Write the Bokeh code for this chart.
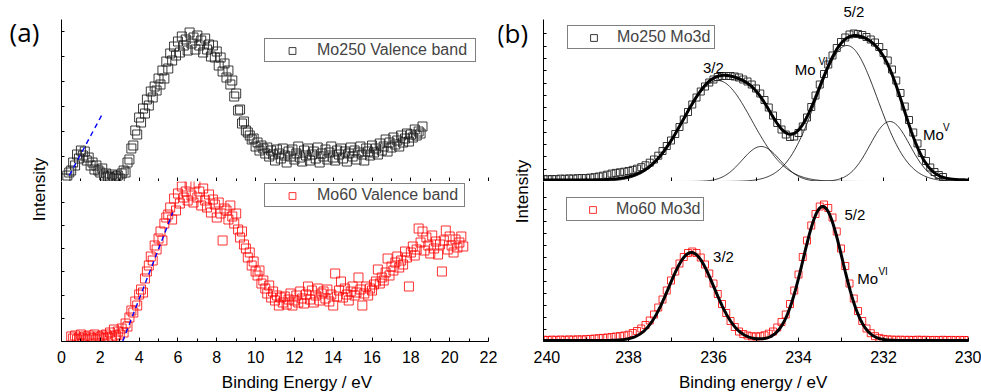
import numpy as np
from math import pi
from bokeh.plotting import figure
from bokeh.layouts import row, column
from bokeh.models import Range1d, FixedTicker, Legend, LegendItem, Label
from bokeh.embed import file_html
from bokeh.resources import INLINE

FONT = "Liberation Sans"

# ---------------- data: (a) valence band ----------------
vb250_e = [0.2, 0.3, 0.4, 0.5, 0.6, 0.7, 0.8, 0.9, 1.0, 1.1, 1.2, 1.3, 1.4, 1.5, 1.6, 1.7, 1.8, 1.9,
           2.0, 2.1, 2.2, 2.3, 2.4, 2.5, 2.6, 2.7, 2.8, 2.9, 3.0, 3.1, 3.2, 3.3, 3.4, 3.5, 3.6, 3.7,
           3.8, 3.9, 4.0, 4.1, 4.2, 4.3, 4.4, 4.5, 4.6, 4.7, 4.8, 4.9, 5.0, 5.1, 5.2, 5.3, 5.4, 5.5,
           5.6, 5.7, 5.8, 5.9, 6.0, 6.1, 6.2, 6.3, 6.4, 6.5, 6.6, 6.7, 6.8, 6.9, 7.0, 7.1, 7.2, 7.3,
           7.4, 7.5, 7.6, 7.7, 7.8, 7.9, 8.0, 8.1, 8.2, 8.3, 8.4, 8.5, 8.6, 8.7, 8.8, 8.9, 9.0, 9.1,
           9.2, 9.3, 9.4, 9.5, 9.6, 9.7, 9.8, 9.9, 10.0, 10.1, 10.2, 10.3, 10.4, 10.5, 10.6, 10.7,
           10.8, 10.9, 11.0, 11.1, 11.2, 11.3, 11.4, 11.5, 11.6, 11.7, 11.8, 11.9, 12.0, 12.1, 12.2,
           12.3, 12.4, 12.5, 12.6, 12.7, 12.8, 12.9, 13.0, 13.1, 13.2, 13.3, 13.4, 13.5, 13.6, 13.7,
           13.8, 13.9, 14.0, 14.1, 14.2, 14.3, 14.4, 14.5, 14.6, 14.7, 14.8, 14.9, 15.0, 15.1, 15.2,
           15.3, 15.4, 15.5, 15.6, 15.7, 15.8, 15.9, 16.0, 16.1, 16.2, 16.3, 16.4, 16.5, 16.6, 16.7,
           16.8, 16.9, 17.0, 17.1, 17.2, 17.3, 17.4, 17.5, 17.6, 17.7, 17.8, 17.9, 18.0, 18.1, 18.2,
           18.3, 18.4, 18.5, 18.6]
vb250_i = [3, 6, 9, 11, 19, 16, 27, 23, 31, 26,
           30, 21, 24, 16, 19, 12, 16, 11, 9, 13,
           6, 8, 5, 4, 7, 3, 5, 6, 3, 8,
           11, 9, 19, 22, 33, 36, 51, 47, 64, 59,
           73, 68, 82, 76, 90, 84, 95, 91, 103, 97,
           111, 103, 120, 113, 128, 121, 135, 126, 140, 129,
           145, 136, 142, 131, 149, 138, 144, 132, 146, 136,
           141, 129, 143, 132, 137, 125, 136, 124, 130, 116,
           124, 110, 118, 104, 111, 97, 101, 85, 88, 71,
           72, 58, 60, 51, 49, 46, 42, 43, 35, 39,
           31, 36, 33, 28, 34, 25, 31, 27, 21, 32,
           28, 23, 33, 26, 19, 30, 25, 32, 22, 28,
           35, 24, 20, 31, 26, 33, 21, 27, 30, 23,
           34, 19, 28, 25, 32, 22, 29, 35, 24, 21,
           31, 27, 33, 23, 30, 20, 28, 34, 25, 31,
           22, 29, 35, 27, 21, 33, 30, 26, 36, 29,
           33, 27, 38, 31, 35, 42, 30, 39, 34, 44,
           37, 41, 35, 46, 39, 43, 48, 40, 47, 44,
           52, 46, 50, 48, 55]

vb60_e = [0.5, 0.6, 0.7, 0.8, 0.9, 1.0, 1.1, 1.2, 1.3, 1.4, 1.5, 1.6, 1.7, 1.8, 1.9, 2.0, 2.1,
          2.2, 2.3, 2.4, 2.5, 2.6, 2.7, 2.8, 2.9, 3.0, 3.1, 3.2, 3.3, 3.4, 3.5, 3.6, 3.7, 3.8,
          3.9, 4.0, 4.1, 4.2, 4.3, 4.4, 4.5, 4.6, 4.7, 4.8, 4.9, 5.0, 5.1, 5.2, 5.3, 5.4, 5.5,
          5.6, 5.7, 5.8, 5.9, 6.0, 6.1, 6.2, 6.3, 6.4, 6.5, 6.6, 6.7, 6.8, 6.9, 7.0, 7.1, 7.2,
          7.3, 7.4, 7.5, 7.6, 7.7, 7.8, 7.9, 8.0, 8.1, 8.2, 8.3, 8.4, 8.5, 8.6, 8.7, 8.8, 8.9,
          9.0, 9.1, 9.2, 9.3, 9.4, 9.5, 9.6, 9.7, 9.8, 9.9, 10.0, 10.1, 10.2, 10.3, 10.4, 10.5,
          10.6, 10.7, 10.8, 10.9, 11.0, 11.1, 11.2, 11.3, 11.4, 11.5, 11.6, 11.7, 11.8, 11.9,
          12.0, 12.1, 12.2, 12.3, 12.4, 12.5, 12.6, 12.7, 12.8, 12.9, 13.0, 13.1, 13.2, 13.3,
          13.4, 13.5, 13.6, 13.7, 13.8, 13.9, 14.0, 14.1, 14.2, 14.3, 14.4, 14.5, 14.6, 14.7,
          14.8, 14.9, 15.0, 15.1, 15.2, 15.3, 15.4, 15.5, 15.6, 15.7, 15.8, 15.9, 16.0, 16.1,
          16.2, 16.3, 16.4, 16.5, 16.6, 16.7, 16.8, 16.9, 17.0, 17.1, 17.2, 17.3, 17.4, 17.5,
          17.6, 17.7, 17.8, 17.9, 18.0, 18.1, 18.2, 18.3, 18.4, 18.5, 18.6, 18.7, 18.8, 18.9,
          19.0, 19.1, 19.2, 19.3, 19.4, 19.5, 19.6, 19.7, 19.8, 19.9, 20.0, 20.1, 20.2, 20.3,
          20.4, 20.5, 20.6, 20.7]
vb60_i = [5, 3, 6, 2, 4, 7, 3, 5, 2, 6,
          4, 3, 7, 2, 5, 4, 6, 3, 7, 4,
          9, 5, 12, 6, 10, 7, 13, 9, 18, 15,
          24, 31, 29, 40, 36, 47, 52, 49, 63, 70,
          76, 85, 81, 96, 92, 103, 110, 101, 118, 124,
          127, 134, 122, 143, 131, 148, 138, 155, 144, 150,
          141, 157, 146, 139, 158, 144, 150, 136, 153, 141,
          134, 147, 129, 142, 137, 124, 139, 128, 101, 133,
          131, 122, 136, 125, 118, 128, 112, 104, 110, 97,
          93, 84, 89, 76, 80, 70, 66, 71, 58, 61,
          53, 48, 56, 44, 50, 41, 46, 36, 44, 39,
          45, 37, 42, 48, 36, 41, 46, 39, 50, 43,
          38, 47, 55, 42, 51, 39, 46, 53, 41, 48,
          50, 43, 52, 40, 47, 36, 68, 45, 51, 60,
          44, 53, 47, 41, 50, 55, 46, 49, 64, 52,
          36, 48, 55, 46, 53, 51, 57, 60, 72, 58,
          64, 61, 69, 83, 66, 75, 71, 79, 85, 74,
          81, 77, 90, 84, 55, 89, 95, 86, 92, 113,
          99, 110, 91, 104, 96, 88, 106, 93, 100, 87,
          97, 70, 101, 111, 92, 105, 96, 89, 102, 94,
          99, 105, 95]

# blue dashed onset extrapolations (two end points each)
edge250_e = [0.4, 2.12]
edge250_i = [6, 68]
edge60_e = [3.15, 5.73]
edge60_i = [0, 129]

# ---------------- data: (b) Mo 3d ----------------
d3_e = [240.0, 239.9, 239.8, 239.7, 239.6, 239.5, 239.4, 239.3, 239.2, 239.1, 239.0, 238.9, 238.8,
        238.7, 238.6, 238.5, 238.4, 238.3, 238.2, 238.1, 238.0, 237.9, 237.8, 237.7, 237.6, 237.5,
        237.4, 237.3, 237.2, 237.1, 237.0, 236.9, 236.8, 236.7, 236.6, 236.5, 236.4, 236.3, 236.2,
        236.1, 236.0, 235.9, 235.8, 235.7, 235.6, 235.5, 235.4, 235.3, 235.2, 235.1, 235.0, 234.9,
        234.8, 234.7, 234.6, 234.5, 234.4, 234.3, 234.2, 234.1, 234.0, 233.9, 233.8, 233.7, 233.6,
        233.5, 233.4, 233.3, 233.2, 233.1, 233.0, 232.9, 232.8, 232.7, 232.6, 232.5, 232.4, 232.3,
        232.2, 232.1, 232.0, 231.9, 231.8, 231.7, 231.6, 231.5, 231.4, 231.3, 231.2, 231.1, 231.0,
        230.9, 230.8, 230.7, 230.6, 230.5, 230.4, 230.3, 230.2, 230.1, 230.0]
d3_250_i = [2.6, 2.2, 2.5, 2.3, 2.9, 2.7, 3.1, 2.9, 3.3, 3.5, 3.4, 3.9, 4.3,
            5.0, 5.8, 6.8, 7.9, 8.6, 9.2, 9.8, 10.5, 11.6, 12.8, 14.3, 16.2, 18.8,
            22.0, 25.8, 30.5, 35.5, 41, 47.5, 54.5, 62, 69.5, 77, 84, 90, 95,
            99, 102, 104.5, 105.5, 105.5, 105.5, 105, 104, 102, 100, 97, 93, 88,
            81.5, 74, 66, 58.5, 52, 47, 44.5, 45, 48.5, 55, 64, 74.5, 86,
            97, 107.5, 117, 126, 133.5, 139.5, 144, 147, 148, 147.5, 146.5, 144.5, 142,
            139, 134.5, 128.5, 121, 112, 101, 88.5, 75, 61.5, 49, 38, 28.5, 20.5,
            14, 9.5, 6.5, 4.5]
d3_60_i = [1.8, 1.5, 1.9, 1.6, 2.0, 1.7, 2.1, 1.8, 2.2, 2.0, 2.4, 2.6, 2.9,
           3.3, 3.6, 4.0, 4.5, 5.0, 5.4, 6.0, 6.8, 8.5, 10.5, 13.0, 16.5, 21,
           27, 34, 42, 51, 61, 70, 78, 84.5, 88.5, 90, 88.5, 84, 77,
           68, 58, 47.5, 37.5, 28.5, 20.5, 14.5, 10.0, 7.5, 6.0, 5.2, 5.0, 5.3,
           6.2, 7.8, 10, 14, 19.5, 27, 37.5, 51, 67, 84.5, 101, 116, 127.5,
           135, 137, 133.5, 124, 110, 93, 75.5, 58, 43, 30.5, 20.5, 13, 8.3,
           5.3, 3.6, 2.6, 2.1, 1.9, 1.7, 1.8, 1.6, 1.7, 1.5, 1.8, 1.6, 1.7,
           1.5, 1.6, 1.4, 1.7, 1.5, 1.6, 1.4, 1.6, 1.5, 1.5]

# Gaussian fit components (centre eV, height, sigma eV)
fit250_center = [235.9, 234.88, 232.86, 231.85]
fit250_height = [101, 35, 136, 60]
fit250_sigma = [0.80, 0.45, 0.72, 0.47]
fit250_bg = 1.5
fit60_center = [236.52, 233.43]
fit60_height = [88, 134]
fit60_sigma = [0.53, 0.46]
fit60_bg = 1.0

# ticks
a_xticks = [0, 2, 4, 6, 8, 10, 12, 14, 16, 18, 20, 22]
a_xminor = [1, 3, 5, 7, 9, 11, 13, 15, 17, 19, 21]
b_xticks = [240, 238, 236, 234, 232, 230]
b_xminor = [239, 237, 235, 233, 231]
a_top_yticks = [25, 50, 75, 100, 125, 150]
a_bot_yticks = [23.2, 46.4, 69.6, 92.8, 116, 139.2]
b_top_yticks = [12.3, 24.6, 36.9, 49.2, 61.5, 73.8, 86.1, 98.4, 110.7, 123, 135.3, 147.6]
b_bot_yticks = [12, 24, 36, 48, 60, 72, 84, 96, 108, 120, 132, 144]


def base_fig(w, h, xr, yr, mbl, mbr, mbt, mbb, axes=True):
    kw = {}
    if not axes:
        kw = dict(x_axis_location=None, y_axis_location=None)
    p = figure(width=w, height=h, x_range=Range1d(*xr), y_range=Range1d(*yr),
               output_backend="svg", toolbar_location=None,
               min_border_left=mbl, min_border_right=mbr,
               min_border_top=mbt, min_border_bottom=mbb, **kw)
    p.outline_line_color = None
    p.xgrid.visible = False
    p.ygrid.visible = False
    p.background_fill_color = "white"
    p.border_fill_color = "white"
    return p


def style_axis(ax, ticks, minor, tin, min_in, labels):
    ax.ticker = FixedTicker(ticks=ticks, minor_ticks=minor)
    ax.axis_line_color = "black"
    ax.axis_line_width = 1
    ax.major_tick_line_color = "black"
    ax.minor_tick_line_color = "black"
    ax.major_tick_in = tin
    ax.major_tick_out = 0
    ax.minor_tick_in = min_in
    ax.minor_tick_out = 0
    if labels:
        ax.major_label_text_font = FONT
        ax.major_label_text_font_size = "16px"
        ax.major_label_text_color = "black"
        ax.major_label_standoff = 9
    else:
        ax.major_label_text_font_size = "0px"
        ax.major_label_text_color = None
        ax.major_label_standoff = 0


def add_legend(p, label, r, loc, label_width, glyph_width):
    lg = Legend(items=[LegendItem(label=label, renderers=[r])], location=loc,
                orientation="vertical", padding=2, margin=0, spacing=0,
                glyph_width=glyph_width, glyph_height=17, label_height=17,
                label_width=label_width, label_standoff=0,
                label_text_font=FONT, label_text_font_size="16px",
                border_line_color="black", border_line_width=1,
                background_fill_color="white", background_fill_alpha=1)
    p.add_layout(lg, "center")


def lab(p, x, y, text, size="15px", align="left", baseline="alphabetic", angle=0.0, font=FONT):
    p.add_layout(Label(x=x, y=y, text=text, text_font=font, text_font_size=size,
                       text_align=align, text_baseline=baseline, angle=angle,
                       text_color="black"))


# ---------------- panel (a) ----------------
fa_top = base_fig(447, 181, (0, 22), (0, 162), 10, 10, 19, 0)
style_axis(fa_top.xaxis[0], a_xticks, a_xminor, 4, 3, False)
style_axis(fa_top.yaxis[0], a_top_yticks, [], 3, 0, False)
r_vb250 = fa_top.scatter(vb250_e, vb250_i, marker="square", size=9, fill_color=None,
                         line_color="#1a1a1a", line_alpha=0.85, line_width=1)
fa_top.line(edge250_e, edge250_i, line_color="#0000ff", line_dash="5 4", line_width=1.4)
add_legend(fa_top, "Mo250 Valence band", r_vb250, (203, 119), 156, 50)

fa_bot = base_fig(447, 192, (0, 22), (0, 160), 10, 10, 0, 32)
style_axis(fa_bot.xaxis[0], a_xticks, a_xminor, 4, 3, True)
style_axis(fa_bot.yaxis[0], a_bot_yticks, [], 3, 0, False)
r_vb60 = fa_bot.scatter(vb60_e, vb60_i, marker="square", size=9, fill_color=None,
                        line_color="#ff0000", line_alpha=0.8, line_width=1)
fa_bot.line(edge60_e, edge60_i, line_color="#0000ff", line_dash="5 4", line_width=1.4)
add_legend(fa_bot, "Mo60 Valence band", r_vb60, (203, 134), 145, 50)

xa = base_fig(447, 19, (0, 447), (0, 19), 0, 0, 0, 0, axes=False)
lab(xa, 246.5, 10, "Binding Energy / eV", size="17px", align="center", baseline="middle")

# ---------------- panel (b) ----------------
xfit = np.linspace(230, 240, 501)

fb_top = base_fig(448, 181, (240, 230), (0, 162), 10, 13, 19, 0)
style_axis(fb_top.xaxis[0], b_xticks, b_xminor, 4, 4, False)
style_axis(fb_top.yaxis[0], b_top_yticks, [], 3, 0, False)
env250 = np.full_like(xfit, fit250_bg)
for c, h, s in zip(fit250_center, fit250_height, fit250_sigma):
    comp = h * np.exp(-(xfit - c) ** 2 / (2 * s * s))
    env250 = env250 + comp
    fb_top.line(xfit, comp, line_color="black", line_width=0.8)
r_d250 = fb_top.scatter(d3_e[:len(d3_250_i)], d3_250_i, marker="square", size=7, fill_color=None,
                        line_color="#222222", line_alpha=0.9, line_width=1)
fb_top.line(xfit, env250, line_color="black", line_width=3)
add_legend(fb_top, "Mo250 Mo3d", r_d250, (24, 132), 95, 47)
# "5/2" sits above the plotting frame: draw it as the figure title
fb_top.title.text = "5/2"
fb_top.title.align = "left"
fb_top.title.offset = 300
fb_top.title.standoff = 0
fb_top.title.vertical_align = "bottom"
fb_top.title.text_font = FONT
fb_top.title.text_font_size = "15px"
fb_top.title.text_font_style = "normal"
fb_top.title.text_color = "black"
lab(fb_top, 236.25, 114, "3/2")
lab(fb_top, 234.09, 112, "Mo")
lab(fb_top, 233.53, 120, "VI", size="10px")
lab(fb_top, 231.07, 47, "Mo")
lab(fb_top, 230.6, 54.5, "V", size="10px")

fb_bot = base_fig(448, 192, (240, 230), (0, 160), 10, 13, 0, 32)
style_axis(fb_bot.xaxis[0], b_xticks, b_xminor, 4, 4, True)
style_axis(fb_bot.yaxis[0], b_bot_yticks, [], 3, 0, False)
env60 = np.full_like(xfit, fit60_bg)
for c, h, s in zip(fit60_center, fit60_height, fit60_sigma):
    env60 = env60 + h * np.exp(-(xfit - c) ** 2 / (2 * s * s))
r_d60 = fb_bot.scatter(d3_e, d3_60_i, marker="square", size=7, fill_color=None,
                       line_color="#ff0000", line_alpha=0.8, line_width=1)
fb_bot.line(xfit, env60, line_color="black", line_width=3)
add_legend(fb_bot, "Mo60 Mo3d", r_d60, (23, 120), 85, 47)
lab(fb_bot, 236.01, 85, "3/2")
lab(fb_bot, 232.92, 127, "5/2")
lab(fb_bot, 232.62, 63, "Mo")
lab(fb_bot, 232.12, 70, "VI", size="10px")

xb = base_fig(448, 19, (0, 448), (0, 19), 0, 0, 0, 0, axes=False)
lab(xb, 221, 10, "Binding energy / eV", size="17px", align="center", baseline="middle")

# ---------------- side label strips ----------------
la = base_fig(51, 392, (0, 51), (0, 392), 0, 0, 0, 0, axes=False)
lab(la, 24, 360.5, "(a)", size="26px", align="center", baseline="middle", font="Open Sans")
lab(la, 39, 203, "Intensity", size="17px", align="center", baseline="middle", angle=pi / 2)

lb = base_fig(35, 392, (0, 35), (0, 392), 0, 0, 0, 0, axes=False)
lab(lb, 14, 359.5, "(b)", size="26px", align="center", baseline="middle", font="Open Sans")
lab(lb, 23.5, 201, "Intensity", size="17px", align="center", baseline="middle", angle=pi / 2)

layout = row(la, column(fa_top, fa_bot, xa), lb, column(fb_top, fb_bot, xb))

open("out.html", "w").write(file_html(layout, INLINE))
